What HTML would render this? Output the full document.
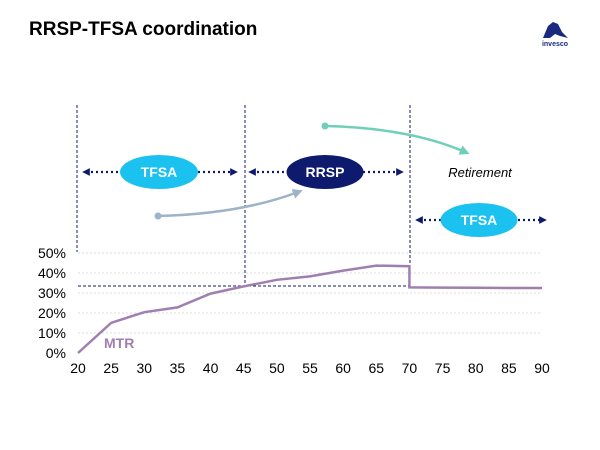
<!DOCTYPE html>
<html><head><meta charset="utf-8"><style>
body{margin:0;background:#fff;}
svg{display:block;font-family:"Liberation Sans",Arial,sans-serif;}
</style></head><body>
<svg width="600" height="450" viewBox="0 0 600 450">
<text x="29" y="35" font-size="19" font-weight="bold" fill="#000">RRSP-TFSA coordination</text>
<g>
<path d="M543 38 L548 26 L553 22 L558 24 L562 32 L568 38 L560 36 L555 34 L550 38 Z" fill="#1a2a80"/>
<text x="555" y="46" font-size="7" font-weight="bold" fill="#1a2a80" text-anchor="middle">invesco</text>
</g>
<defs>
<marker id="ah" viewBox="0 0 10 10" refX="5" refY="5" markerWidth="3.5" markerHeight="3.5" orient="auto-start-reverse"><path d="M0 0 L10 5 L0 10 Z" fill="#0d1a6e"/></marker>
<marker id="ahg" viewBox="0 0 10 10" refX="5" refY="5" markerWidth="4" markerHeight="4" orient="auto"><path d="M0 0 L10 5 L0 10 Z" fill="#9db3c7"/></marker>
<marker id="aht" viewBox="0 0 10 10" refX="5" refY="5" markerWidth="4" markerHeight="4" orient="auto"><path d="M0 0 L10 5 L0 10 Z" fill="#6fcfb8"/></marker>
</defs>
<g id="grid"></g>
<g stroke="#0d1a6e" stroke-width="1" stroke-dasharray="3,2">
<line x1="77" y1="105" x2="77" y2="252"/>
<line x1="245" y1="105" x2="245" y2="286"/>
<line x1="410" y1="105" x2="410" y2="266"/>
<line x1="78" y1="286" x2="410" y2="286"/>
</g>
<g stroke="#0d1a6e" stroke-width="2.2" stroke-dasharray="2,3" fill="none">
<line x1="86" y1="172" x2="120" y2="172" marker-start="url(#ah)"/>
<line x1="198" y1="172" x2="234" y2="172" marker-end="url(#ah)"/>
<line x1="252" y1="172" x2="286" y2="172" marker-start="url(#ah)"/>
<line x1="363" y1="172" x2="400" y2="172" marker-end="url(#ah)"/>
<line x1="419" y1="220" x2="441" y2="220" marker-start="url(#ah)"/>
<line x1="518" y1="220" x2="543" y2="220" marker-end="url(#ah)"/>
</g>
<ellipse cx="159" cy="172" rx="39" ry="17" fill="#1cc2ef"/>
<text x="159" y="177" font-size="14" font-weight="bold" fill="#fff" text-anchor="middle">TFSA</text>
<ellipse cx="325" cy="172" rx="38.5" ry="17" fill="#0d1a6e"/>
<text x="325" y="177" font-size="14" font-weight="bold" fill="#fff" text-anchor="middle">RRSP</text>
<ellipse cx="479" cy="220" rx="38.5" ry="17" fill="#1cc2ef"/>
<text x="479" y="225" font-size="14" font-weight="bold" fill="#fff" text-anchor="middle">TFSA</text>
<text x="480" y="177" font-size="13" font-style="italic" fill="#000" text-anchor="middle">Retirement</text>
<path d="M158 216 Q240 214 298 192" stroke="#9db3c7" stroke-width="2.5" fill="none" marker-end="url(#ahg)"/>
<circle cx="158" cy="216" r="3.5" fill="#9db3c7"/>
<path d="M325 126 Q410 128 465 152" stroke="#6fcfb8" stroke-width="2.5" fill="none" marker-end="url(#aht)"/>
<circle cx="325" cy="126" r="3.5" fill="#6fcfb8"/>
<g id="axes"></g>
<path id="mtr" fill="none" stroke="#a07fb0" stroke-width="2.5"/>
<text x="104" y="348" font-size="14" font-weight="bold" fill="#a07fb0">MTR</text>
</svg>
<script>
const ages = [20,25,30,35,40,45,50,55,60,65,70,70,75,80,85,90];
const mtr = [0,15.1,20.4,22.8,29.7,33.3,36.6,38.3,41.2,43.7,43.4,32.8,32.7,32.6,32.5,32.5];
const xTicks = [20,25,30,35,40,45,50,55,60,65,70,75,80,85,90];
const yTicks = [0,10,20,30,40,50];
const X = a => 78 + (a-20)*(542-78)/70;
const Y = v => 353 - v*2.0;
const ns = "http://www.w3.org/2000/svg";
const grid = document.getElementById('grid');
const axes = document.getElementById('axes');
yTicks.forEach(t=>{
  if(t>0){
    const l=document.createElementNS(ns,'line');
    l.setAttribute('x1',78);l.setAttribute('x2',542);
    l.setAttribute('y1',Y(t));l.setAttribute('y2',Y(t));
    l.setAttribute('stroke','#dcdcdc');l.setAttribute('stroke-dasharray','2,2');
    
    
    grid.appendChild(l);
  }
  const tx=document.createElementNS(ns,'text');
  tx.setAttribute('x',66);tx.setAttribute('y',Y(t)+5);
  tx.setAttribute('font-size','14');tx.setAttribute('text-anchor','end');
  tx.textContent=t+'%';
  
  
  axes.appendChild(tx);
});
xTicks.forEach(t=>{
  const tx=document.createElementNS(ns,'text');
  tx.setAttribute('x',X(t));tx.setAttribute('y',373);
  tx.setAttribute('font-size','14');tx.setAttribute('text-anchor','middle');
  tx.textContent=t;
  
  
  axes.appendChild(tx);
});
document.getElementById('mtr').setAttribute('d', ages.map((a,i)=>(i?'L':'M')+X(a)+' '+Y(mtr[i])).join(' '));
</script>
</body></html>
